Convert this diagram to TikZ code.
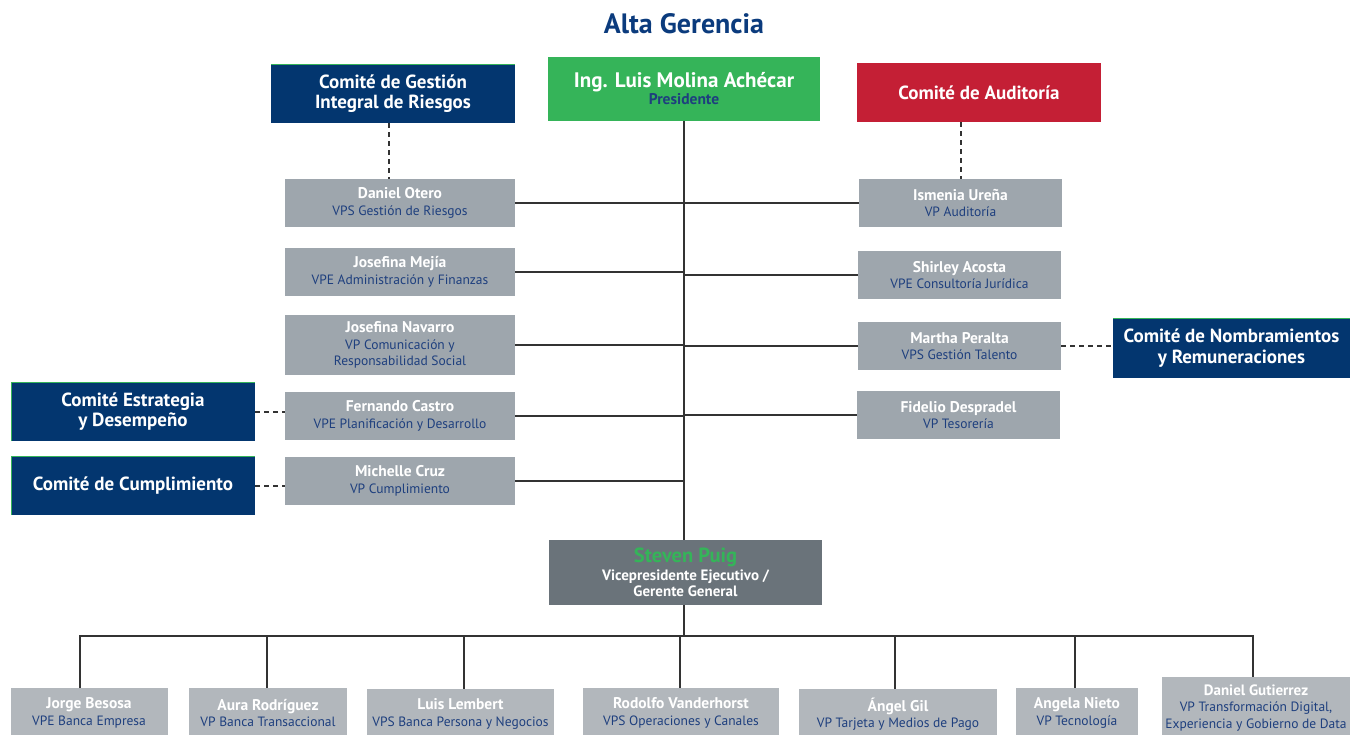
\documentclass[tikz,border=0pt]{standalone}
\usepackage{fontspec}
\setmainfont{PT Sans}
\definecolor{navy}{HTML}{03366F}
\definecolor{pgreen}{HTML}{35B459}
\definecolor{pred}{HTML}{C41F35}
\definecolor{grayA}{HTML}{9EA6AD}
\definecolor{grayB}{HTML}{B2B7BC}
\definecolor{grayC}{HTML}{6A737A}
\definecolor{subblue}{HTML}{1E3F7E}
\definecolor{titleblue}{HTML}{0B3B7D}
\definecolor{linec}{HTML}{333333}
\newcommand{\nm}[1]{{\bfseries\color{white}\fontsize{15.5}{16.5}\selectfont#1}}
\newcommand{\sub}[1]{{\color{subblue}\fontsize{13.5}{16.5}\selectfont#1}}
\tikzset{
  every node/.style={inner sep=0pt, outer sep=0pt, align=center},
  vpbox/.style={fill=grayA, font=\fontsize{13.5}{16.5}\selectfont, minimum height=48pt},
  lowbox/.style={fill=grayB, font=\fontsize{13.5}{16.5}\selectfont, minimum height=50pt},
  combox/.style={fill=navy, text=white, font=\bfseries\fontsize{19}{20.5}\selectfont, minimum width=244pt, minimum height=59pt},
  solidline/.style={draw=linec, line width=1.2pt},
  dashline/.style={draw=linec, line width=2pt, dash pattern=on 5pt off 4pt},
}
\begin{document}
\begin{tikzpicture}[x=1pt, y=-1pt]
\clip (0,0) rectangle (1350,734);
\useasboundingbox (0,0) rectangle (1350,734);
\fill[white] (0,0) rectangle (1350,734);

% title
\node[text=titleblue, font=\bfseries\fontsize{28}{30}\selectfont] (title) at (684,24) {Alta Gerencia};

% top row
\node[combox] (comR) at (393,93.5) {Comité de Gestión\\Integral de Riesgos};
\node[fill=pgreen, minimum width=272pt, minimum height=64pt, font=\bfseries\fontsize{15.5}{17}\selectfont] (pres) at (684,89)
  {{\color{white}\fontsize{21}{17}\selectfont Ing. Luis Molina Achécar}\\{\color{subblue}Presidente}};
\node[combox, fill=pred] (comA) at (979,92.5) {Comité de Auditoría};
\draw[pgreen, line width=0.8pt] (comR.north west) -- (comR.north east);

% left column
\node[vpbox, minimum width=230pt] (otero) at (400,203) {\nm{Daniel Otero}\\\sub{VPS Gestión de Riesgos}};
\node[vpbox, minimum width=230pt] (mejia) at (400,272) {\nm{Josefina Mejía}\\\sub{VPE Administración y Finanzas}};
\node[vpbox, minimum width=230pt, minimum height=60pt] (navarro) at (400,345) {\nm{Josefina Navarro}\\\sub{VP Comunicación y}\\\sub{Responsabilidad Social}};
\node[vpbox, minimum width=230pt] (castro) at (400,416) {\nm{Fernando Castro}\\\sub{VPE Planificación y Desarrollo}};
\node[vpbox, minimum width=230pt] (cruz) at (400,481) {\nm{Michelle Cruz}\\\sub{VP Cumplimiento}};

% right column
\node[vpbox, minimum width=203pt] (ismenia) at (960.5,203) {\nm{Ismenia Ureña}\\\sub{VP Auditoría}};
\node[vpbox, minimum width=203pt] (acosta) at (959.5,275) {\nm{Shirley Acosta}\\\sub{VPE Consultoría Jurídica}};
\node[vpbox, minimum width=203pt] (peralta) at (959.5,346) {\nm{Martha Peralta}\\\sub{VPS Gestión Talento}};
\node[vpbox, minimum width=203pt] (fidelio) at (958.5,415) {\nm{Fidelio Despradel}\\\sub{VP Tesorería}};

% side committees
\node[combox, minimum width=237pt, minimum height=60pt] (comN) at (1231.5,348) {Comité de Nombramientos\\y Remuneraciones};
\node[combox] (comE) at (133,411.5) {Comité Estrategia\\y Desempeño};
\node[combox] (comC) at (133,485.5) {Comité de Cumplimiento};
\draw[pgreen, line width=0.8pt] (comN.north west) -- (comN.north east);
\draw[pgreen, line width=0.8pt] (comE.south west) -- (comE.north west) -- (comE.north east);
\draw[pgreen, line width=0.8pt] (comC.south west) -- (comC.north west) -- (comC.north east);

% Steven Puig
\node[fill=grayC, minimum width=273pt, minimum height=65pt, font=\bfseries\fontsize{15}{16.5}\selectfont] (steven) at (685.5,572.5)
  {{\color{pgreen}\fontsize{20.5}{16.5}\selectfont Steven Puig}\\[1pt]{\color{white}Vicepresidente Ejecutivo /}\\{\color{white}Gerente General}};

% trunk
\coordinate (trunkT) at (684,121);
\draw[solidline] (pres.south -| trunkT) -- (steven.north -| trunkT);
\foreach \n in {otero,mejia,navarro,castro,cruz}{
  \draw[solidline] (\n.east) -- (\n.east -| trunkT);
}
\foreach \n in {ismenia,acosta,peralta,fidelio}{
  \draw[solidline] (\n.west) -- (\n.west -| trunkT);
}

% dashed committee links
\draw[dashline] (comR.south -| otero.north) ++(-11,0) coordinate (dR) -- (dR |- otero.north);
\draw[dashline] (comA.south -| ismenia.north) -- (ismenia.north);
\draw[dashline] (peralta.east) -- (peralta.east -| comN.west);
\draw[dashline] (comE.east) -- (comE.east -| castro.west);
\draw[dashline] (comC.east) -- (comC.east -| cruz.west);

% bottom row
\node[lowbox, minimum width=157pt, anchor=north] (jorge) at (89,688) {\nm{Jorge Besosa}\\\sub{VPE Banca Empresa}};
\node[lowbox, minimum width=158pt, anchor=north] (aura) at (268,688) {\nm{Aura Rodríguez}\\\sub{VP Banca Transaccional}};
\node[lowbox, minimum width=187pt, anchor=north] (luis) at (460.5,689) {\nm{Luis Lembert}\\\sub{VPS Banca Persona y Negocios}};
\node[lowbox, minimum width=196pt, anchor=north] (rodolfo) at (681,688) {\nm{Rodolfo Vanderhorst}\\\sub{VPS Operaciones y Canales}};
\node[lowbox, minimum width=198pt, anchor=north] (angel) at (898,689) {\nm{Ángel Gil}\\\sub{VP Tarjeta y Medios de Pago}};
\node[lowbox, minimum width=122pt, anchor=north] (angela) at (1077,688) {\nm{Angela Nieto}\\\sub{VP Tecnología}};
\node[lowbox, minimum width=188pt, minimum height=62pt, anchor=north] (danielg) at (1256,677)
  {{\bfseries\color{white}\fontsize{15}{13.5}\selectfont Daniel Gutierrez}\\{\color{subblue}\fontsize{13.5}{13.5}\selectfont VP Transformación Digital,}\\{\color{subblue}\fontsize{13.5}{13.5}\selectfont Experiencia y Gobierno de Data}};

% bus
\coordinate (bus) at (684,636);
\coordinate (busL) at (80,636);
\coordinate (busR) at (1253,636);
\draw[solidline] (steven.south -| bus) -- (bus);
\draw[solidline] (busL |- jorge.north) -- (busL) -- (busR) -- (busR |- danielg.north);
\foreach \n/\x in {aura/267,luis/464,rodolfo/680,angel/895,angela/1075}{
  \coordinate (b\n) at (\x,636);
  \draw[solidline] (b\n) -- (b\n |- \n.north);
}
\end{tikzpicture}
\end{document}
